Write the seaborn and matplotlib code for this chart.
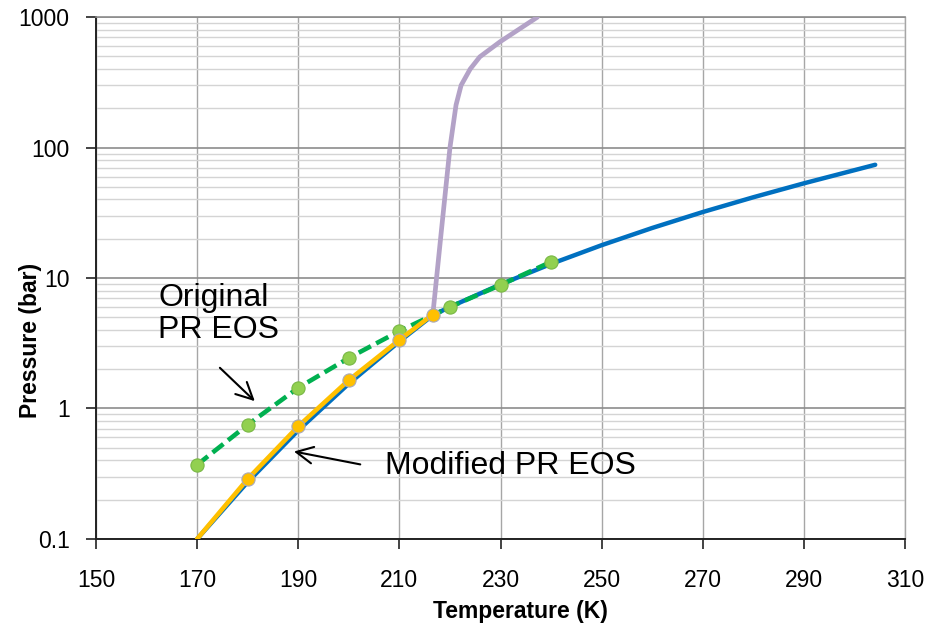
import numpy as np
import pandas as pd
import matplotlib
matplotlib.use("Agg")
import matplotlib.pyplot as plt
from matplotlib.ticker import FixedLocator, LogLocator, FuncFormatter
import seaborn as sns

# Saturation curve of CO2 (sublimation below the triple point, vaporization above)
sat_T = [170, 180, 190, 200, 210, 216.6, 220, 230, 240, 250, 260, 270, 280, 290, 300, 304.1]
sat_P = [0.1, 0.273, 0.68, 1.55, 3.26, 5.18, 6.0, 8.93, 12.83, 17.85, 24.19, 32.05, 41.6, 53.2, 67.1, 73.8]

# Melting line starting at the triple point
melt_T = [216.6, 218.3, 220.0, 221.2, 222.2, 224.0, 225.9, 229.9, 233.5, 237.3]
melt_P = [5.2, 23, 100, 212, 300, 400, 496, 647, 800, 1000]

# Original Peng-Robinson EOS predictions
orig_T = [170, 180, 190, 200, 210, 220, 230, 240]
orig_P = [0.37, 0.75, 1.44, 2.44, 3.92, 6.0, 8.84, 13.3]

# Modified Peng-Robinson EOS predictions
mod_T = [170, 180, 190, 200, 210, 216.6]
mod_P = [0.1, 0.288, 0.73, 1.65, 3.35, 5.25]

x_ticks = [150, 170, 190, 210, 230, 250, 270, 290, 310]
y_ticks = [0.1, 1, 10, 100, 1000]
y_labels = ["0.1", "1", "10", "100", "1000"]

sns.set_style("white")
plt.rcParams["font.family"] = ["Liberation Sans", "DejaVu Sans"]
plt.rcParams.update({"text.color": "black", "axes.labelcolor": "black",
                     "xtick.color": "black", "ytick.color": "black"})

fig = plt.figure(figsize=(9.34, 6.34), dpi=100)
ax = fig.add_axes([0.1028, 0.150, 0.969 - 0.1028, 0.973 - 0.150])

sat = pd.DataFrame({"T": sat_T, "P": sat_P})
melt = pd.DataFrame({"T": melt_T, "P": melt_P})
orig = pd.DataFrame({"T": orig_T, "P": orig_P})
mod = pd.DataFrame({"T": mod_T, "P": mod_P})

sns.lineplot(data=sat, x="T", y="P", ax=ax, color="#0070C0", lw=3.2,
             solid_capstyle="round", sort=False, zorder=3)
sns.lineplot(data=melt, x="T", y="P", ax=ax, color="#B3A2C7", lw=3.4,
             sort=False, zorder=3)
sns.lineplot(data=orig, x="T", y="P", ax=ax, color="#00B050", lw=3.3,
             dashes=False, sort=False, zorder=4)
ax.lines[-1].set_dashes([3.0, 1.3])
ax.lines[-1].set_marker("o")
ax.lines[-1].set_markersize(9.5)
ax.lines[-1].set_markerfacecolor("#92D050")
ax.lines[-1].set_markeredgecolor("#79B845")
ax.lines[-1].set_markeredgewidth(0.8)
sns.lineplot(data=mod, x="T", y="P", ax=ax, color="#FFC000", lw=3.3,
             sort=False, zorder=5)
ax.lines[-1].set_marker("o")
ax.lines[-1].set_markevery(list(range(1, len(mod_T))))
ax.lines[-1].set_markersize(9.5)
ax.lines[-1].set_markerfacecolor("#FFC000")
ax.lines[-1].set_markeredgecolor("#A9A9B8")
ax.lines[-1].set_markeredgewidth(0.8)

ax.set_yscale("log")
ax.set_xlim(150, 310)
ax.set_ylim(0.1, 1000)

ax.xaxis.set_major_locator(FixedLocator(x_ticks))
ax.yaxis.set_major_locator(FixedLocator(y_ticks))
ax.yaxis.set_major_formatter(FuncFormatter(lambda v, p: y_labels[y_ticks.index(v)] if v in y_ticks else ""))
ax.yaxis.set_minor_locator(LogLocator(base=10, subs=np.arange(2, 10)))
ax.yaxis.set_minor_formatter(FuncFormatter(lambda v, p: ""))

ax.grid(which="major", axis="x", color="#A6A6A6", lw=1.0)
ax.grid(which="major", axis="y", color="#8C8C8C", lw=1.2)
ax.grid(which="minor", axis="y", color="#D4D4D4", lw=1.0)
ax.set_axisbelow(True)

for side in ["left", "bottom"]:
    ax.spines[side].set_color("#222222")
    ax.spines[side].set_linewidth(1.4)
ax.spines["top"].set_color("#8C8C8C")
ax.spines["top"].set_linewidth(1.2)
ax.spines["right"].set_color("#A6A6A6")
ax.spines["right"].set_linewidth(1.0)

ax.tick_params(axis="both", which="major", direction="out", length=7, width=1.2,
               color="#222222", labelsize=16.5, left=True, bottom=True)
ax.tick_params(axis="x", pad=15)
ax.tick_params(axis="y", pad=12)
ax.tick_params(axis="y", which="minor", length=0)

ax.set_xlabel("Temperature (K)", fontsize=16.5, fontweight="bold")
ax.set_ylabel("Pressure (bar)", fontsize=16.5, fontweight="bold")
ax.xaxis.set_label_coords(0.524, -0.118)
ax.yaxis.set_label_coords(-0.0667, 0.381)

ax.annotate("", xy=(181.8, 1.10), xytext=(174.1, 2.12),
            arrowprops=dict(arrowstyle="->", color="black", lw=1.5, mutation_scale=30))
ax.text(162.3, 9.2, "Original\nPR EOS", fontsize=23, ha="left", va="top", linespacing=1.12)

ax.annotate("", xy=(188.6, 0.472), xytext=(202.8, 0.369),
            arrowprops=dict(arrowstyle="->", color="black", lw=1.5, mutation_scale=30))
ax.text(207.2, 0.362, "Modified PR EOS", fontsize=23, ha="left", va="center")

fig.savefig("out.png", dpi=100)
